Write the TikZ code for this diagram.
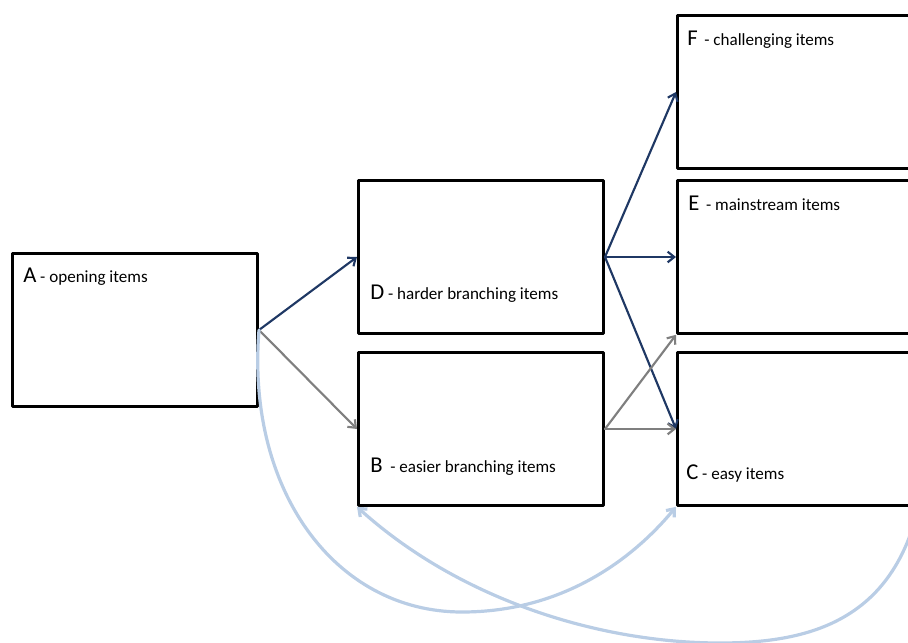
\documentclass[tikz,border=0pt]{standalone}
\usepackage{fontspec}
\setmainfont{Carlito}
\usetikzlibrary{arrows.meta}
\definecolor{navyarrow}{HTML}{1F3864}
\definecolor{grayarrow}{HTML}{7F7F7F}
\definecolor{paleblue}{HTML}{B9CDE5}
\newcommand{\boxletter}[1]{{\fontsize{17}{19}\selectfont #1}}
\begin{document}
\begin{tikzpicture}[x=0.75pt,y=-0.75pt,>={Straight Barb[length=5pt,width=8pt]}, line join=round, line cap=round,
	itembox/.style={draw,line width=2pt,minimum width=184pt,minimum height=114.75pt,inner sep=0pt},
	itemtext/.style={anchor=base west,inner sep=0pt,font=\fontsize{12.8}{15}\selectfont},
	hardarrow/.style={navyarrow,line width=1.6pt,->},
	easyarrow/.style={grayarrow,line width=1.6pt,->},
	looparrow/.style={paleblue,line width=2.4pt,->}]
		\useasboundingbox (0,0) rectangle (908,643);
		\clip (0,0) rectangle (908,643);
		% boxes
		\node[itembox] (A) at (135,330) {};
		\node[itembox] (D) at (481,257) {};
		\node[itembox] (B) at (481,429) {};
		\node[itembox] (F) at (800,92) {};
		\node[itembox] (E) at (800,257) {};
		\node[itembox] (C) at (800,429) {};
		% labels
		\node[itemtext] (Atext) at (23,282) {\boxletter{A} - opening items};
		\node[itemtext] (Dtext) at (370,299) {\boxletter{D} - harder branching items};
		\node[itemtext] (Btext) at (370,472) {\boxletter{B} \ - easier branching items};
		\node[itemtext] (Ctext) at (686,479) {\boxletter{C} - easy items};
		\node[itemtext] (Etext) at (688,210) {\boxletter{E} \,- mainstream items};
		\node[itemtext] (Ftext) at (687,45) {\boxletter{F} \,- challenging items};
		% branching
		\draw[hardarrow] (A.east) -- (D.west);
		\draw[easyarrow] (A.east) -- (B.west);
		\draw[hardarrow] (D.east) -- (F.west);
		\draw[hardarrow] (D.east) -- (E.west);
		\draw[hardarrow] (D.east) -- (C.west);
		\draw[easyarrow] (B.east) -- (E.south west);
		\draw[easyarrow] (B.east) -- (C.west);
		% loops back
		\coordinate (loopin) at (925,470);
		\draw[looparrow] (A.east) .. controls (246,490) and (335,612) .. (462,612)
			.. controls (562,612) and (632,560) .. (C.south west);
		\draw[looparrow] (loopin) .. controls (908,615) and (820,643) .. (720,643)
			.. controls (600,643) and (460,600) .. (B.south west);
\end{tikzpicture}
\end{document}
